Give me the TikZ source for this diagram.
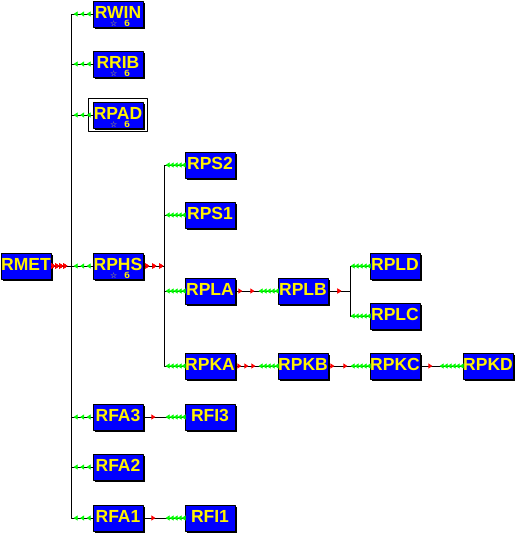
\documentclass[tikz,border=0pt]{standalone}
\usepackage{fontspec}
\setmainfont{Liberation Sans}
\newfontfamily\flagfont{DejaVu Sans}
\usetikzlibrary{arrows.meta,decorations.markings,shadows,fit}

% name with the two small marks under it
\newcommand\flagged[1]{\makebox[46pt]{#1}\llap{\raisebox{-8.5pt}[0pt][0pt]{\makebox[46pt]{\hspace{4pt}\flagfont\fontsize{8}{8}\selectfont ☆\hspace{7pt}б}}}}

\tikzset{
	box/.style={draw=black, line width=0.8pt, fill=blue, text=yellow,
		font=\fontsize{17.5}{17.5}\selectfont\bfseries,
		minimum width=50pt, minimum height=26pt, inner sep=0pt, text height=17pt, text depth=9pt,
		drop shadow={shadow xshift=1.5pt, shadow yshift=-1.5pt, fill=black, opacity=1}},
	padframe/.style={draw=black, line width=0.8pt, inner xsep=4pt, inner ysep=3pt},
	link/.style={draw=black, line width=0.7pt},
	tipr/.tip={Triangle[length=4pt,width=5pt]},
	red at/.style={postaction={decorate, decoration={markings,
		mark=at position #1 with {\arrow[red]{tipr}}}}},
	reds/.style n args={3}{postaction={decorate, decoration={markings,
		mark=between positions #1 and #2 step #3 with {\arrow[red]{tipr}}}}},
	greens/.style n args={3}{postaction={decorate, decoration={markings,
		mark=between positions -#1 and -#2 step #3 with {\arrowreversed[green]{tipr}}}}}
}

\begin{document}
\begin{tikzpicture}[x=1pt, y=-1pt, line join=round]
	\useasboundingbox (0,0) rectangle (516,533);
	% columns and rows
	\def\ca{26} \def\cb{118} \def\cc{210} \def\cd{303} \def\ce{395} \def\cf{488}
	\node[box] (rmet) at (\ca,266) {RMET};
	\node[box] (rwin) at (\cb,14) {\flagged{RWIN}};
	\node[box] (rrib) at (\cb,64) {\flagged{RRIB}};
	\node[box] (rpad) at (\cb,115) {\flagged{RPAD}};
	\node[padframe, fit=(rpad)] (rpadframe) {};
	\node[box] (rphs) at (\cb,266) {\flagged{RPHS}};
	\node[box] (rfa3) at (\cb,417) {RFA3};
	\node[box] (rfa2) at (\cb,467) {RFA2};
	\node[box] (rfa1) at (\cb,518) {RFA1};
	\node[box] (rps2) at (\cc,165) {RPS2};
	\node[box] (rps1) at (\cc,215) {RPS1};
	\node[box] (rpla) at (\cc,291) {RPLA};
	\node[box] (rpka) at (\cc,366) {RPKA};
	\node[box] (rfi3) at (\cc,417) {RFI3};
	\node[box] (rfi1) at (\cc,518) {RFI1};
	\node[box] (rplb) at (\cd,291) {RPLB};
	\node[box] (rpkb) at (\cd,366) {RPKB};
	\node[box] (rpld) at (\ce,266) {RPLD};
	\node[box] (rplc) at (\ce,316) {RPLC};
	\node[box] (rpkc) at (\ce,366) {RPKC};
	\node[box] (rpkd) at (\cf,366) {RPKD};
	% buses
	\coordinate (bus1) at (71,266);
	\coordinate (bus2) at (164,266);
	\coordinate (bus3) at (350,291);
	\foreach \c in {rwin,rrib,rpad,rfa3,rfa2,rfa1}
	{\draw[link, reds={4pt}{19pt}{4pt}, greens={19pt}{6pt}{6.5pt}] (rmet) -- (bus1) |- (\c);}
	\draw[link, reds={4pt}{19pt}{4pt}, greens={19pt}{6pt}{6.5pt}] (rmet) -- (rphs);
	\foreach \c in {rps2,rps1,rpla,rpka}
	{\draw[link, reds={6pt}{20pt}{7pt}, greens={19pt}{3pt}{4pt}] (rphs) -- (bus2) |- (\c);}
	\foreach \c in {rpld,rplc}
	{\draw[link, red at=13pt, greens={19pt}{3pt}{4pt}] (rplb) -- (bus3) |- (\c);}
	\draw[link, red at=7pt, red at=19pt, greens={19pt}{3pt}{4pt}] (rpla) -- (rplb);
	\draw[link, reds={6pt}{20pt}{7pt}, greens={19pt}{3pt}{4pt}] (rpka) -- (rpkb);
	\draw[link, red at=6pt, red at=19pt, greens={19pt}{3pt}{4pt}] (rpkb) -- (rpkc);
	\draw[link, red at=12pt, greens={23pt}{3pt}{4pt}] (rpkc) -- (rpkd);
	\draw[link, red at=12pt, greens={19pt}{3pt}{4pt}] (rfa3) -- (rfi3);
	\draw[link, red at=12pt, greens={19pt}{3pt}{4pt}] (rfa1) -- (rfi1);
\end{tikzpicture}
\end{document}
